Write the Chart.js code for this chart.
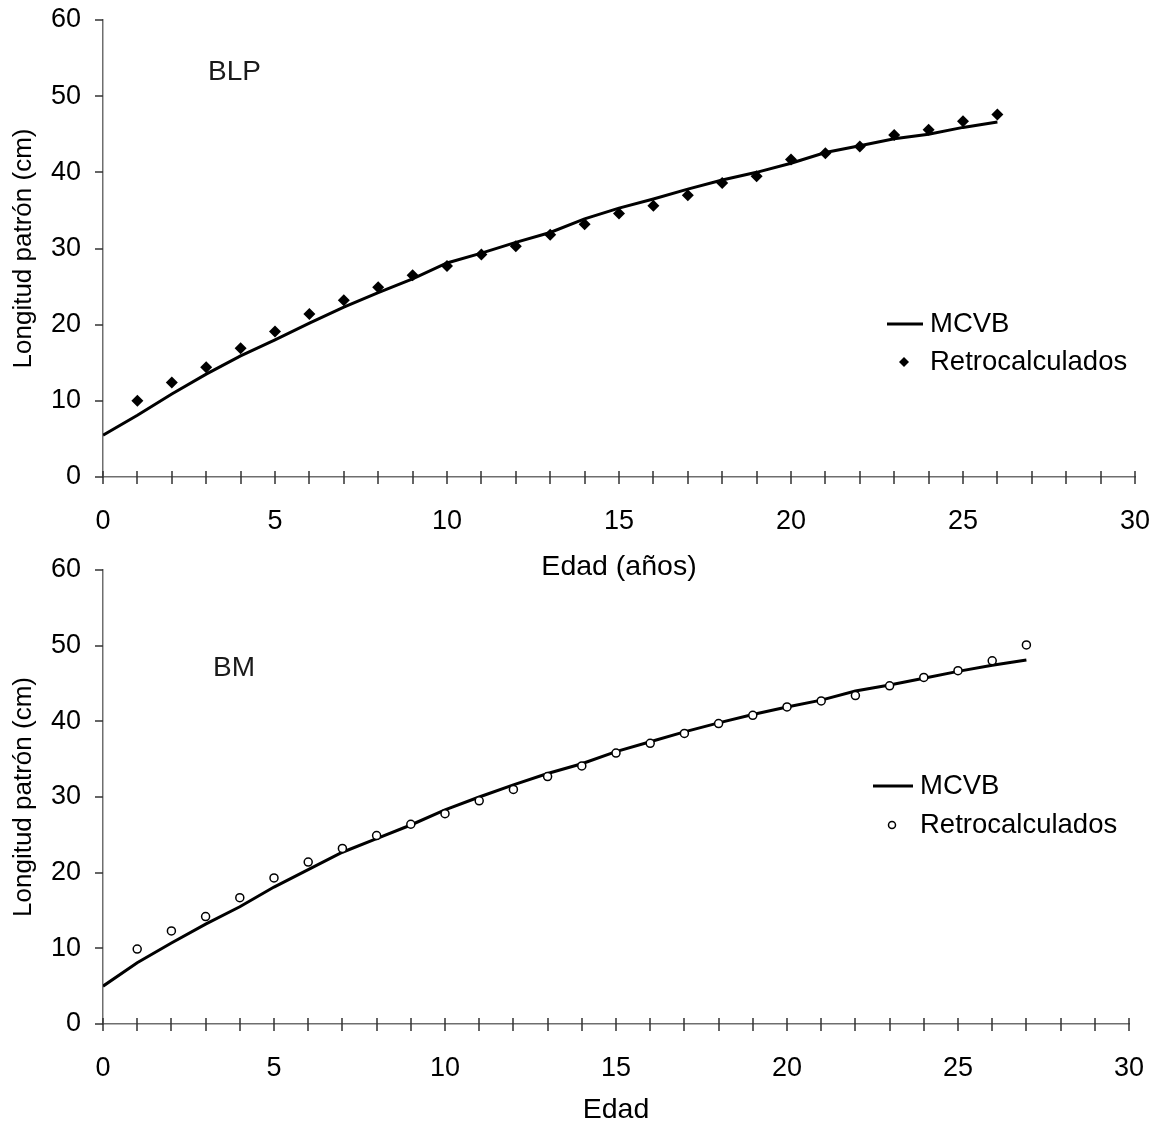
<!DOCTYPE html>
<html lang="es">
<head>
<meta charset="utf-8">
<title>Crecimiento en longitud por edad</title>
<script src="https://cdn.jsdelivr.net/npm/chart.js@4.4.1/dist/chart.umd.min.js"></script>
<style>
  html, body { margin: 0; padding: 0; background: #fff; }
  body { width: 1154px; height: 1124px; position: relative; overflow: hidden; }
  canvas { position: absolute; left: 0; }
  #grafico-blp { top: 0; }
  #grafico-bm { top: 540px; }
</style>
</head>
<body>
<canvas id="grafico-blp" width="1154" height="584"></canvas>
<canvas id="grafico-bm" width="1154" height="584"></canvas>
<script>
// --- DATOS ---
const edadMcvbBLP = [0, 1, 2, 3, 4, 5, 6, 7, 8, 9, 10, 11, 12, 13, 14, 15, 16, 17, 18, 19, 20, 21, 22, 23, 24, 25, 26];
const longMcvbBLP = [5.5, 8.1, 10.9, 13.5, 15.9, 18.0, 20.2, 22.3, 24.2, 26.0, 28.1, 29.4, 30.8, 32.1, 33.9, 35.3, 36.5, 37.8, 39.0, 40.0, 41.2, 42.6, 43.5, 44.4, 45.0, 45.9, 46.6];
const edadRetroBLP = [1, 2, 3, 4, 5, 6, 7, 8, 9, 10, 11, 12, 13, 14, 15, 16, 17, 18, 19, 20, 21, 22, 23, 24, 25, 26];
const longRetroBLP = [10.0, 12.4, 14.4, 16.9, 19.1, 21.4, 23.2, 24.9, 26.5, 27.7, 29.2, 30.3, 31.8, 33.2, 34.6, 35.6, 37.0, 38.6, 39.5, 41.7, 42.5, 43.4, 44.9, 45.6, 46.7, 47.6];

const edadMcvbBM = [0, 1, 2, 3, 4, 5, 6, 7, 8, 9, 10, 11, 12, 13, 14, 15, 16, 17, 18, 19, 20, 21, 22, 23, 24, 25, 26, 27];
const longMcvbBM = [5.0, 8.1, 10.7, 13.2, 15.5, 18.1, 20.4, 22.7, 24.5, 26.3, 28.3, 30.0, 31.6, 33.1, 34.4, 36.0, 37.3, 38.6, 39.8, 40.9, 41.9, 42.8, 44.0, 44.8, 45.7, 46.6, 47.4, 48.1];
const edadRetroBM = [1, 2, 3, 4, 5, 6, 7, 8, 9, 10, 11, 12, 13, 14, 15, 16, 17, 18, 19, 20, 21, 22, 23, 24, 25, 26, 27];
const longRetroBM = [9.9, 12.3, 14.2, 16.7, 19.3, 21.4, 23.2, 24.9, 26.4, 27.8, 29.5, 31.0, 32.7, 34.1, 35.8, 37.1, 38.4, 39.7, 40.8, 41.9, 42.7, 43.4, 44.7, 45.8, 46.7, 48.0, 50.1];

const etiquetasX = [0, 5, 10, 15, 20, 25, 30];
const serieLinea = 'MCVB';
const seriePuntos = 'Retrocalculados';

const FUENTE = "'Liberation Sans', Arial, sans-serif";

const aPuntos = (xs, ys) => xs.map((x, i) => ({ x, y: ys[i] }));

/**
 * Marcas de los ejes: en X cruzan el eje, en Y salen hacia fuera.
 */
const marcasEjes = {
    id: 'marcasEjes',
    afterDraw(chart) {
        const { ctx, chartArea, scales: { x, y } } = chart;
        ctx.save();
        ctx.strokeStyle = '#333';
        ctx.lineWidth = 1.5;
        ctx.beginPath();
        x.ticks.forEach(t => {
            const px = Math.round(x.getPixelForValue(t.value));
            ctx.moveTo(px, chartArea.bottom - 6);
            ctx.lineTo(px, chartArea.bottom + 7);
        });
        y.ticks.forEach(t => {
            const py = Math.round(y.getPixelForValue(t.value));
            ctx.moveTo(chartArea.left - 8, py);
            ctx.lineTo(chartArea.left, py);
        });
        ctx.stroke();
        ctx.restore();
    }
};

/**
 * Leyenda interna y rótulo del grupo, con los estilos de cada serie.
 */
const leyendaInterna = {
    id: 'leyendaInterna',
    afterDraw(chart, args, opts) {
        const { ctx } = chart;
        const puntos = chart.data.datasets[0];
        const linea = chart.data.datasets[1];
        ctx.save();
        ctx.fillStyle = '#1a1a1a';
        ctx.font = `28px ${FUENTE}`;
        ctx.textBaseline = 'middle';
        ctx.fillText(opts.rotulo, opts.rotuloX, opts.rotuloY);

        // entrada de la línea
        ctx.strokeStyle = linea.borderColor;
        ctx.lineWidth = linea.borderWidth;
        ctx.beginPath();
        ctx.moveTo(opts.lineaX0, opts.filaLinea);
        ctx.lineTo(opts.lineaX1, opts.filaLinea);
        ctx.stroke();

        // entrada de los puntos
        ctx.fillStyle = puntos.backgroundColor;
        ctx.strokeStyle = puntos.borderColor;
        ctx.lineWidth = puntos.borderWidth;
        Chart.helpers.drawPoint(ctx, {
            pointStyle: puntos.pointStyle,
            radius: puntos.legendRadius,
            rotation: 0,
            borderWidth: puntos.borderWidth
        }, opts.marcaX, opts.filaPuntos);

        ctx.fillStyle = '#000';
        ctx.font = `27.5px ${FUENTE}`;
        ctx.fillText(serieLinea, opts.textoX, opts.filaLinea);
        ctx.fillText(seriePuntos, opts.textoX, opts.filaPuntos);
        ctx.restore();
    }
};

const crearGrafico = (canvas, cfg) => {
    const ejeBase = {
        type: 'linear',
        border: { display: true, color: '#6e6e6e', width: 1.5 },
        grid: { display: false, drawTicks: false }
    };

    return new Chart(canvas, {
        type: 'scatter',
        data: {
            datasets: [
                {
                    label: seriePuntos,
                    data: aPuntos(cfg.edadRetro, cfg.longRetro),
                    showLine: false,
                    pointStyle: cfg.estiloPunto,
                    pointRadius: cfg.radioPunto,
                    legendRadius: cfg.radioLeyenda,
                    backgroundColor: cfg.rellenoPunto,
                    borderColor: '#000',
                    borderWidth: cfg.bordePunto
                },
                {
                    type: 'line',
                    label: serieLinea,
                    data: aPuntos(cfg.edadLinea, cfg.longLinea),
                    borderColor: '#000',
                    borderWidth: 3,
                    pointRadius: 0,
                    tension: 0,
                    fill: false
                }
            ]
        },
        options: {
            responsive: false,
            devicePixelRatio: 1,
            animation: false,
            events: [],
            layout: { padding: { top: cfg.margenSup, right: cfg.margenDer, bottom: 0, left: 0 } },
            plugins: {
                legend: { display: false },
                tooltip: { enabled: false },
                leyendaInterna: cfg.leyenda
            },
            scales: {
                x: {
                    ...ejeBase,
                    min: 0,
                    max: 30,
                    ticks: {
                        stepSize: 1,
                        autoSkip: false,
                        maxRotation: 0,
                        padding: 28,
                        color: '#000',
                        font: { family: FUENTE, size: 27 },
                        callback: v => etiquetasX.includes(v) ? String(v) : ''
                    },
                    title: {
                        display: true,
                        text: cfg.tituloX,
                        color: '#000',
                        font: { family: FUENTE, size: 28.5 },
                        padding: { top: 0, bottom: cfg.margenTitulo }
                    },
                    afterFit: s => {
                        s.height = cfg.altoEjeX;
                        s.paddingLeft = 0;
                        s.paddingRight = 0;
                    }
                },
                y: {
                    ...ejeBase,
                    min: 0,
                    max: 60,
                    ticks: {
                        stepSize: 10,
                        padding: 22,
                        color: '#000',
                        font: { family: FUENTE, size: 27 }
                    },
                    title: {
                        display: true,
                        text: 'Longitud patrón (cm)',
                        color: '#000',
                        font: { family: FUENTE, size: 26 },
                        padding: { top: 8, bottom: 0 }
                    },
                    afterFit: s => {
                        s.width = 103;
                        s.paddingTop = 0;
                        s.paddingBottom = 0;
                    }
                }
            }
        },
        plugins: [marcasEjes, leyendaInterna]
    });
};

crearGrafico(document.querySelector('#grafico-blp'), {
    edadLinea: edadMcvbBLP,
    longLinea: longMcvbBLP,
    edadRetro: edadRetroBLP,
    longRetro: longRetroBLP,
    estiloPunto: 'rectRot',
    radioPunto: 6,
    radioLeyenda: 5,
    rellenoPunto: '#000',
    bordePunto: 0,
    tituloX: 'Edad (años)',
    margenSup: 20,
    margenDer: 19,
    altoEjeX: 107,
    margenTitulo: 0,
    leyenda: {
        rotulo: 'BLP', rotuloX: 208, rotuloY: 72,
        lineaX0: 887, lineaX1: 923, filaLinea: 324,
        marcaX: 904, filaPuntos: 362, textoX: 930
    }
});

crearGrafico(document.querySelector('#grafico-bm'), {
    edadLinea: edadMcvbBM,
    longLinea: longMcvbBM,
    edadRetro: edadRetroBM,
    longRetro: longRetroBM,
    estiloPunto: 'circle',
    radioPunto: 4,
    radioLeyenda: 3.5,
    rellenoPunto: '#fff',
    bordePunto: 1.5,
    tituloX: 'Edad',
    margenSup: 30,
    margenDer: 25,
    altoEjeX: 100,
    margenTitulo: -3,
    leyenda: {
        rotulo: 'BM', rotuloX: 213, rotuloY: 128,
        lineaX0: 873, lineaX1: 913, filaLinea: 246,
        marcaX: 892, filaPuntos: 285, textoX: 920
    }
});
</script>
</body>
</html>
